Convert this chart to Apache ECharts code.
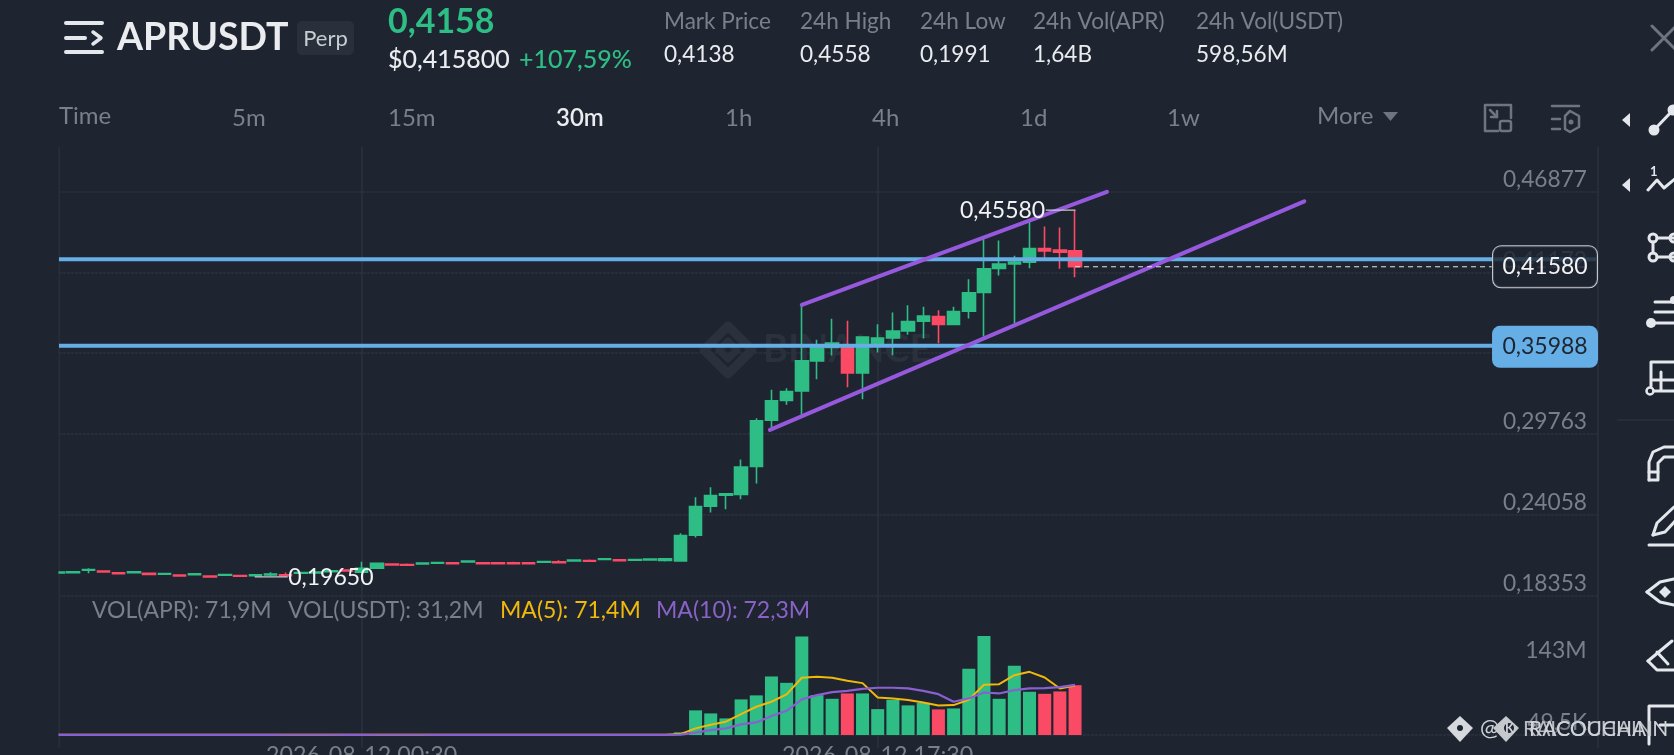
<!DOCTYPE html>
<html><head><meta charset="utf-8">
<style>html,body{margin:0;padding:0;background:#1e2530;overflow:hidden}#c{width:1674px;height:755px}</style>
<script src="https://cdn.jsdelivr.net/npm/echarts@6/dist/echarts.min.js"></script>
</head><body><div id="c"></div>
<script>
// ---- data ----
const opens = [.19930,.19950,.20120,.20070,.19950,.19950,.19900,.19840,.19780,.19815,.19710,.19770,.19755,.19745,.19795,.19805,.19910,.19935,.20030,.20135,.19987,.20270,.20560,.20535,.20575,.20620,.20650,.20715,.20650,.20650,.20650,.20650,.20690,.20720,.20785,.20815,.20880,.20865,.20835,.20860,.20824,.20788,.22605,.24656,.25434,.25476,.27456,.30736,.32122,.32807,.34928,.35869,.35869,.34080,.36151,.36555,.37049,.37735,.38060,.37495,.38442,.39757,.41454,.41786,.41906,.42868,.42755,.42705];
const closes = [.19990,.20020,.20180,.20000,.19885,.20020,.19835,.19895,.19720,.19875,.19650,.19825,.19700,.19805,.19850,.19745,.19970,.19990,.20085,.20075,.20270,.20623,.20500,.20475,.20625,.20675,.20595,.20770,.20595,.20595,.20595,.20595,.20745,.20665,.20840,.20760,.20935,.20805,.20885,.20910,.20930,.22577,.24627,.25405,.25525,.27412,.30686,.32100,.32758,.34928,.35869,.36180,.34080,.36604,.36533,.37028,.37707,.38089,.37495,.38414,.39736,.41433,.41765,.41906,.42868,.42705,.42613,.41580];
const lows = [.19900,.19920,.19916,.19980,.19860,.19900,.19800,.19830,.19700,.19800,.19640,.19760,.19680,.19650,.19720,.19730,.19880,.19920,.20000,.20050,.19940,.20270,.20480,.20440,.20560,.20610,.20580,.20700,.20570,.20580,.20580,.20580,.20680,.20650,.20780,.20740,.20870,.20790,.20790,.20800,.20739,.20760,.22435,.24203,.24444,.25151,.26254,.30171,.31817,.31110,.33634,.35303,.33069,.32220,.35515,.35332,.36767,.36505,.36180,.37495,.37919,.36646,.40959,.37544,.41482,.42069,.41433,.40846];
const highs = [.20000,.20060,.20270,.20060,.19980,.20040,.19930,.19905,.19790,.19900,.19720,.19850,.19770,.19850,.19980,.19960,.20000,.20050,.20150,.20200,.20718,.20660,.20580,.20600,.20650,.20720,.20700,.20830,.20670,.20640,.20720,.20670,.20760,.20830,.20880,.20880,.20990,.20880,.20900,.20960,.20965,.22747,.25292,.25999,.25547,.27951,.30877,.32878,.32998,.38887,.36413,.37898,.37756,.36604,.37523,.38343,.38866,.38746,.38512,.38746,.40704,.43603,.43433,.42352,.44777,.44424,.44353,.45580];
const volumes = [.3,.3,.4,.3,.3,.3,.3,.3,.3,.3,.3,.3,.4,.4,.4,.4,.3,.3,.3,.3,.7,.6,.4,.3,.3,.3,.3,.3,.3,.3,.3,.3,.3,.3,.3,.3,.3,.3,.3,.4,.4,3.9,35.6,31.2,24,51.4,57.2,84.5,75.3,142.1,57.6,52.3,60,60,37.4,50.8,42.8,46.5,37,38.4,95.5,143,52.3,99.8,62.4,59.5,62.9,71.9];
const ma5 = [.3,.3,.3,.3,.3,.3,.3,.3,.3,.3,.3,.3,.3,.4,.4,.4,.4,.3,.3,.3,.4,.4,.4,.4,.4,.3,.3,.3,.3,.3,.3,.3,.3,.3,.3,.3,.3,.3,.3,.3,.3,1.4,9.6,14.9,19.2,30.2,40.8,48,58.6,82.6,84,82.6,78.2,74.9,54.2,52.8,50.4,47,42.7,43.2,50.9,72.5,73.4,86.4,91.2,83,67.2,71.4];
const ma10 = [.3,.3,.3,.3,.3,.3,.3,.3,.3,.3,.3,.3,.3,.3,.3,.4,.4,.4,.4,.3,.3,.4,.4,.4,.4,.3,.3,.3,.3,.3,.3,.3,.3,.3,.3,.3,.3,.3,.3,.3,.3,.5,3.4,7.2,9.6,15.4,18.2,27.4,35,51.4,57.6,61.9,63.8,66.7,68.2,68.2,67.2,63.8,59,48,52.8,61.4,60,64.8,67.2,67.7,69.1,72.3];
const priceTicks = [0.18353,0.24058,0.29763,0.35467,0.41172,0.46877];
const timeTicks = {20:'2026-08-12 00:30',54:'2026-08-12 17:30'};
const xMin = 0.066, xMax = 101.45;
const upperResist = 0.42119, lowerResist = 0.35988, lastPrice = 0.41580, lowPrice = 0.19650, highPrice = 0.45580;
const channelUpper = [[49,0.38887],[69.1,0.46877]];
const channelLower = [[46.9,0.30050],[82.1,0.46205]];

// ---- style ----
const BG='#1e2530', GREEN='#2ebd85', RED='#fb4a65', BLUE='#66aee6', PURPLE='#9659de', GRID='#2b323e', GRAY='#7a808a', FONT='Lato, "Noto Sans", sans-serif';
const comma = v => v.toFixed(5).replace('.',',');
const candles = opens.map((o,i)=>[i,o,closes[i],lows[i],highs[i]]);
const pair = a => a.map((v,i)=>[i,v*1e6]);
const txt = (text,x,y,size,fill,weight,align) => ({type:'text',x,y,silent:true,z:20,style:{text,fontSize:size,fill,fontWeight:weight||400,fontFamily:FONT,align:align||'left',verticalAlign:'middle'}});
const pl = (pts,stroke,w) => ({type:'polyline',silent:true,z:20,shape:{points:pts},style:{stroke,lineWidth:w||3,fill:null,lineCap:'round',lineJoin:'round'}});
const circ = (cx,cy,r,fill) => ({type:'circle',silent:true,z:20,shape:{cx,cy,r},style:{fill}});
const ring = (cx,cy,r,stroke,w) => ({type:'circle',silent:true,z:20,shape:{cx,cy,r},style:{fill:null,stroke,lineWidth:w||3}});
const box = (x,y,width,height,r,style) => ({type:'rect',silent:true,z:20,shape:{x,y,width,height,r},style});
const tri = (pts,fill) => ({type:'polygon',silent:true,z:20,shape:{points:pts},style:{fill}});
const W='#e4e7eb', IC='#6f7580';
const elements = [
  // left margin of the plot: marks do not show to the left of the frame
  Object.assign(box(0,147,58.4,608,0,{fill:BG}),{z:19}),
  // binance watermark behind the chart
  Object.assign(pl([[728,326],[752,350],[728,374],[704,350],[728,326]],'#2a313d',9),{z:-1}),
  Object.assign(pl([[728,341],[737,350],[728,359],[719,350],[728,341]],'#2a313d',7),{z:-1}),
  Object.assign(txt('BINANCE',763,350,38,'#2a313d',700),{z:-1}),
  // header
  pl([[66,23],[102,23]],W,4),pl([[66,38],[85,38]],W,4),pl([[66,52],[102,52]],W,4),pl([[93,32],[101,38],[93,44]],W,3.5),
  txt('APRUSDT',117,38,37.5,'#eaecef',700),
  box(297,21,57,34,5,{fill:'#2a303b'}),
  txt('Perp',325.5,39,22,'#c9ccd2',400,'center'),
  txt('0,4158',388,22,34,GREEN,700),
  txt('$0,415800',388,60,25,'#eaecef',500),
  txt('+107,59%',519,60,25,GREEN,500),
  txt('Mark Price',664,22,22.6,GRAY),txt('24h High',800,22,22.6,GRAY),txt('24h Low',920,22,22.6,GRAY),txt('24h Vol(APR)',1033,22,22.6,GRAY),txt('24h Vol(USDT)',1196,22,22.6,GRAY),
  txt('0,4138',664,55,22.6,'#eaecef'),txt('0,4558',800,55,22.6,'#eaecef'),txt('0,1991',920,55,22.6,'#eaecef'),txt('1,64B',1033,55,22.6,'#eaecef'),txt('598,56M',1196,55,22.6,'#eaecef'),
  txt('Time',59,116,24,GRAY),txt('5m',232,118,24,GRAY),txt('15m',388,118,24,GRAY),txt('30m',556,118,24,'#eaecef',600),
  txt('1h',725,118,24,GRAY),txt('4h',872,118,24,GRAY),txt('1d',1020,118,24,GRAY),txt('1w',1167,118,24,GRAY),txt('More',1317,116,24,GRAY),
  tri([[1383,112],[1398,112],[1390.5,121]],IC),
  // top-right icons
  pl([[1498,105],[1485,105],[1485,131],[1498,131]],IC,2.5),pl([[1498,105],[1511,105],[1511,118]],IC,2.5),
  box(1500,121,11,10,2,{fill:null,stroke:IC,lineWidth:2.5}),pl([[1490,110],[1497,117]],IC,2.5),pl([[1497,111],[1497,117],[1491,117]],IC,2.5),
  pl([[1552,106],[1579,106]],IC,2.5),pl([[1552,119],[1560,119]],IC,2.5),pl([[1552,129],[1560,129]],IC,2.5),
  pl([[1570,111],[1579,116],[1579,127],[1570,132],[1565,129],[1565,116],[1570,111]],IC,2.5),circ(1571,122,2.5,IC),
  pl([[1652,50],[1676,26]],IC,3),pl([[1652,26],[1676,50]],IC,3),
  // left toolbar arrows and drawing tools
  tri([[1630,113],[1630,127],[1622,120]],W),tri([[1630,178],[1630,192],[1622,185]],W),
  circ(1654,130,5.5,W),circ(1673,110,5.5,W),pl([[1654,130],[1673,110]],W,3),
  pl([[1648,190],[1657,180],[1664,188],[1676,178]],W,3),txt('1',1650,172,13,W,700),
  ring(1653,238,4,W,3),ring(1653,257,4,W,3),ring(1674,238,4,W,3),ring(1674,257,4,W,3),pl([[1657,238],[1674,238]],W,3),pl([[1653,242],[1653,253]],W,3),pl([[1657,257],[1674,257]],W,3),
  pl([[1655,302],[1676,302]],W,3),pl([[1655,312],[1676,312]],W,3),pl([[1650,323],[1676,323]],W,3),circ(1651,323,5,W),circ(1674,300,4,W),
  pl([[1651,386],[1651,362],[1676,362]],W,3),pl([[1661,372],[1661,390]],W,3),pl([[1653,380],[1676,380]],W,3),ring(1650,391,3.5,W,2.5),pl([[1654,391],[1676,391]],W,3),
  pl([[1618,420],[1674,420]],'#2b323e',1.5),
  pl([[1649,480],[1649,462],[1653,452],[1664,447],[1676,447]],W,3),pl([[1649,480],[1658,480],[1658,463],[1664,457],[1676,457]],W,3),pl([[1649,472],[1658,472]],W,3),
  pl([[1653,535],[1657,523],[1674,507]],W,3),pl([[1653,535],[1665,532],[1676,520]],W,3),pl([[1649,545],[1674,545]],W,3),
  pl([[1647,592],[1660,582],[1674,579]],W,3),pl([[1647,592],[1660,602],[1674,605]],W,3),tri([[1665,586],[1671,592],[1665,598],[1659,592]],W),
  pl([[1648,661],[1672,641]],W,3),pl([[1648,661],[1657,670],[1676,670]],W,3),pl([[1657,652],[1668,664]],W,3),
  pl([[1649,744],[1649,706],[1676,706]],W,3),pl([[1660,725],[1676,725]],W,3),
  // footer watermark
  tri([[1460,716],[1473,728],[1460,742],[1447,728]],'#d5d8dc'),circ(1460,728,3,BG),
  txt('@',1480,729,23,'#cfd3d8'),
  tri([[1506,716],[1519,728],[1506,742],[1493,728]],'#c5c9ce'),circ(1509,728,5,BG),
  txt('K',1505,729,13,'#cfd3d8',700),
  txt('RAICOCHAIN',1523,729,21,'#b8bcc2'),txt('RACOUCHAIN',1529,729,21,'#cfd3d8'),
  // volume header
  txt('VOL(APR): 71,9M',92,611,23,GRAY),txt('VOL(USDT): 31,2M',288,611,23,GRAY),txt('MA(5): 71,4M',500,611,23,'#f0b90b'),txt('MA(10): 72,3M',656,611,23,'#8a62c6'),
];

const sideLabel = (x,y,text,opt) => ({coord:[x,y],symbol:'circle',symbolSize:0,value:text,label:Object.assign({show:true,formatter:text,fontFamily:FONT,fontSize:23},opt)});
const flat = (name,pts,color,width,extra) => Object.assign({name,type:'line',xAxisIndex:0,yAxisIndex:0,data:pts,symbol:'none',silent:true,animation:false,lineStyle:{color,width,cap:'round'}},extra||{});
const mp = (items) => ({symbol:'circle',symbolSize:0,silent:true,animation:false,data:items});
const boxLabelX = 97.96;

const option = {
  backgroundColor:BG, animation:false,
  grid:[{left:59,width:1539,top:147,height:448.3,outerBoundsMode:'none'},{left:59,width:1539,top:595.3,height:152.7,outerBoundsMode:'none'}],
  xAxis:[
    {type:'value',gridIndex:0,min:xMin,max:xMax,axisLine:{show:false},axisLabel:{show:false},axisTick:{show:false,customValues:[xMin,20,54,xMax]},splitLine:{show:true,lineStyle:{color:GRID,width:1.5}}},
    {type:'value',gridIndex:1,min:xMin,max:xMax,axisLine:{show:false},axisTick:{show:false,customValues:[xMin,20,54,xMax]},splitLine:{show:true,lineStyle:{color:GRID,width:1.5}},
     axisLabel:{show:true,customValues:[20,54],margin:-4,color:GRAY,fontSize:23.3,fontFamily:FONT,showMinLabel:true,showMaxLabel:true,verticalAlign:'top',formatter:v=>timeTicks[Math.round(v)]||''}}
  ],
  yAxis:[
    {type:'value',gridIndex:0,position:'right',min:0.18353,max:0.50048,axisLine:{show:false},axisTick:{show:false,customValues:priceTicks},
     splitLine:{show:true,lineStyle:{color:GRID,width:1.5,type:[3,1]}},
     axisLabel:{show:true,inside:true,customValues:priceTicks,margin:11,color:GRAY,fontSize:22.7,fontFamily:FONT,verticalAlign:'bottom',lineHeight:24,align:'right',formatter:comma}},
    {type:'value',gridIndex:1,position:'right',min:-18.7e6,max:201.6e6,axisLine:{show:false},axisTick:{show:false,customValues:[49500]},
     splitLine:{show:true,lineStyle:{color:GRID,width:1.5,type:[3,1]}},
     axisLabel:{show:true,inside:true,customValues:[49500],margin:11,color:GRAY,fontSize:22.7,fontFamily:FONT,verticalAlign:'bottom',lineHeight:24,align:'right',formatter:()=>'49,5K'}}
  ],
  graphic:{elements},
  series:[
    {name:'Price',type:'candlestick',xAxisIndex:0,yAxisIndex:0,barWidth:13,clip:true,encode:{x:0,y:[1,2,3,4]},data:candles,silent:true,
     itemStyle:{color:GREEN,color0:RED,borderColor:GREEN,borderColor0:RED,borderWidth:1.6}},
    {name:'Volume',type:'bar',xAxisIndex:1,yAxisIndex:1,barWidth:13,data:pair(volumes),silent:true,
     itemStyle:{color:p=>closes[p.dataIndex]>=opens[p.dataIndex]?GREEN:RED},
     markPoint:mp([sideLabel(100.7,143e6,'143M',{position:'left',distance:0,offset:[0,15],color:GRAY})])},
    {name:'MA5',type:'line',xAxisIndex:1,yAxisIndex:1,data:pair(ma5),symbol:'none',silent:true,z:4,lineStyle:{color:'#f0b90b',width:2}},
    {name:'MA10',type:'line',xAxisIndex:1,yAxisIndex:1,data:pair(ma10),symbol:'none',silent:true,z:4,lineStyle:{color:'#8a5fd0',width:2.2}},
    flat('Resistance',[[xMin,upperResist],[xMax,upperResist]],BLUE,4,{z:3,lineStyle:{color:BLUE,width:4,cap:'butt'}}),
    flat('Support',[[xMin,lowerResist],[xMax,lowerResist]],BLUE,4,{z:3,lineStyle:{color:BLUE,width:4,cap:'butt'},markPoint:mp([
      sideLabel(boxLabelX,lowerResist,comma(lowerResist),{position:'inside',color:BG,backgroundColor:BLUE,borderRadius:8,width:106,height:42,lineHeight:42,align:'center',verticalAlign:'middle',offset:[0,1]})])}),
    flat('ChannelUpper',channelUpper,PURPLE,4,{z:4}),
    flat('ChannelLower',channelLower,PURPLE,4,{z:4}),
    flat('Last',[[67,lastPrice],[94.45,lastPrice]],'#e4e7eb',1,{z:4,lineStyle:{color:'#e4e7eb',width:1,type:[5,4]},markPoint:mp([
      sideLabel(boxLabelX,lastPrice,comma(lastPrice),{position:'inside',color:'#f2f3f5',backgroundColor:'rgba(30,37,48,0.82)',borderColor:'#c6cad0',borderWidth:1,borderRadius:8,width:104,height:41,lineHeight:41,align:'center',verticalAlign:'middle'})])}),
    flat('Low',[[13,lowPrice],[15.1,lowPrice]],'#c6cad0',1.2,{z:4,markPoint:mp([sideLabel(15.1,lowPrice,comma(lowPrice),{position:'right',distance:1,color:'#f2f3f5',offset:[0,1]})])}),
    flat('High',[[65.1,highPrice],[67,highPrice]],'#c6cad0',1.2,{z:4,markPoint:mp([sideLabel(65.1,highPrice,comma(highPrice),{position:'left',distance:1,color:'#f2f3f5'})])}),
  ]
};
const chart = echarts.init(document.getElementById('c'),null,{renderer:'canvas',width:1674,height:755});
chart.setOption(option);
</script></body></html>
